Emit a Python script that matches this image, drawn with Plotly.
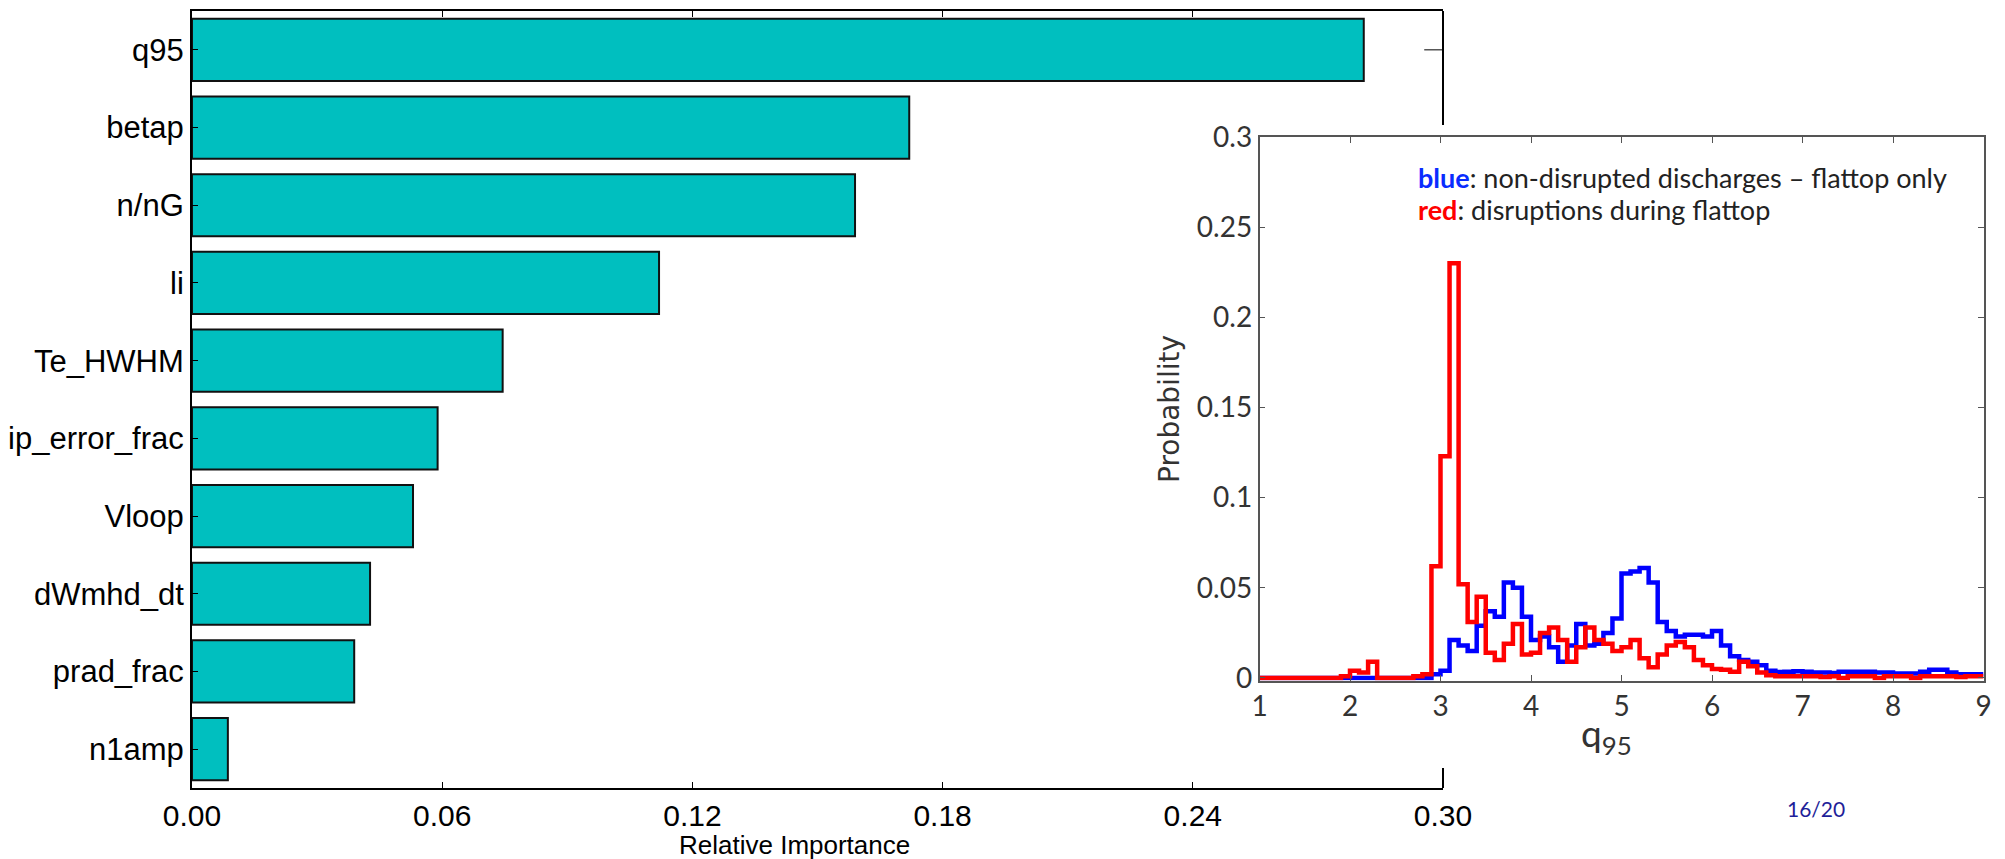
import numpy as np
import plotly.graph_objects as go

# the page body has an 8px default margin: work in window pixels and offset
OX, OY = 8, 8
W, H = 2005 - OX, 859 - OY

# ---------------- data: feature importance (left chart) ----------------
features = ["q95", "betap", "n/nG", "li", "Te_HWHM", "ip_error_frac",
            "Vloop", "dWmhd_dt", "prad_frac", "n1amp"]
importance = [0.281, 0.172, 0.159, 0.112, 0.0745, 0.0589,
              0.0530, 0.0427, 0.0389, 0.0086]
imp_tickvals = [0.00, 0.06, 0.12, 0.18, 0.24, 0.30]
imp_ticktext = ["0.00", "0.06", "0.12", "0.18", "0.24", "0.30"]

# ---------------- data: q95 histograms (inset) ----------------
# bins of width 0.1 from q95 = 1.0 to 9.0 (80 bins)
q95_bin_edges = np.round(1.0 + 0.1 * np.arange(81), 1)
blue_prob = [
    0, 0, 0, 0, 0, 0, 0, 0, 0, 0,                 # 1.0-2.0
    0, 0, 0, 0, 0, 0, 0, 0, 0, 0.002,             # 2.0-3.0
    0.004, 0.021, 0.018, 0.015, 0.029, 0.037, 0.034, 0.053, 0.050, 0.034,  # 3.0-4.0
    0.021, 0.023, 0.017, 0.009, 0.018, 0.030, 0.018, 0.019, 0.025, 0.033,  # 4.0-5.0
    0.058, 0.059, 0.061, 0.053, 0.031, 0.026, 0.023, 0.024, 0.024, 0.023,  # 5.0-6.0
    0.026, 0.018, 0.012, 0.010, 0.009, 0.007, 0.004, 0.0033, 0.0035, 0.0037,  # 6.0-7.0
    0.0035, 0.003, 0.003, 0.0028, 0.0035, 0.0035, 0.0035, 0.0035, 0.003, 0.003,  # 7.0-8.0
    0.0025, 0.0025, 0.0025, 0.0035, 0.0045, 0.0045, 0.003, 0.002, 0.002, 0.002,  # 8.0-9.0
]
red_prob = [
    0, 0, 0, 0, 0, 0, 0, 0, 0, 0.001,             # 1.0-2.0
    0.004, 0.003, 0.009, 0, 0, 0, 0, 0.001, 0.002, 0.062,  # 2.0-3.0
    0.123, 0.230, 0.052, 0.031, 0.045, 0.014, 0.010, 0.019, 0.030, 0.013,  # 3.0-4.0
    0.014, 0.025, 0.028, 0.021, 0.009, 0.017, 0.028, 0.021, 0.019, 0.015,  # 4.0-5.0
    0.017, 0.021, 0.011, 0.006, 0.013, 0.018, 0.020, 0.017, 0.010, 0.007,  # 5.0-6.0
    0.005, 0.0045, 0.0035, 0.009, 0.0065, 0.003, 0.0015, 0.001, 0.001, 0.001,  # 6.0-7.0
    0.001, 0.001, 0.0005, 0.001, 0, 0.001, 0.001, 0.001, 0, 0.001,  # 7.0-8.0
    0.001, 0.001, 0, 0.001, 0.001, 0.001, 0.001, 0.0005, 0.001, 0.001,  # 8.0-9.0
]
inset_xticks = [1, 2, 3, 4, 5, 6, 7, 8, 9]
inset_yticks = [0, 0.05, 0.1, 0.15, 0.2, 0.25, 0.3]
inset_yticktext = ["0", "0.05", "0.1", "0.15", "0.2", "0.25", "0.3"]


def px(x):
    return (x - OX) / W


def py(y):
    return 1 - (y - OY) / H


# left plot box (window pixels)
L_LEFT, L_RIGHT, L_TOP, L_BOT = 192, 1443, 11, 788
# inset plot box (window pixels)
I_LEFT, I_RIGHT, I_TOP, I_BOT = 1259.5, 1983.5, 137, 680.5

fig = go.Figure()

fig.add_trace(go.Bar(
    x=importance, y=features, orientation="h", width=0.8,
    marker=dict(color="#00BFBF", line=dict(color="#111111", width=2)),
    xaxis="x", yaxis="y", showlegend=False, hoverinfo="x+y",
))

fig.add_trace(go.Scatter(
    x=q95_bin_edges, y=blue_prob + [blue_prob[-1]], mode="lines",
    line=dict(color="#0000ff", width=4.5, shape="hv"),
    xaxis="x2", yaxis="y2", showlegend=False,
))
fig.add_trace(go.Scatter(
    x=q95_bin_edges, y=red_prob + [red_prob[-1]], mode="lines",
    line=dict(color="#ff0000", width=4.5, shape="hv"),
    xaxis="x2", yaxis="y2", showlegend=False,
))

left_font = dict(family="Liberation Sans, Arial, sans-serif", color="#000000")
inset_font = dict(family="Lato, Open Sans, sans-serif", color="#333333")

fig.update_layout(
    width=W, height=H, autosize=False,
    margin=dict(l=0, r=0, t=0, b=0, pad=0, autoexpand=False),
    paper_bgcolor="white", plot_bgcolor="rgba(0,0,0,0)",
    showlegend=False,
    xaxis=dict(
        domain=[px(L_LEFT), px(L_RIGHT)], range=[0, 0.30], anchor="y",
        tickvals=imp_tickvals, ticktext=imp_ticktext, automargin=False,
        ticks="inside", ticklen=6, tickwidth=1, tickcolor="#000",
        showline=True, linecolor="#000", linewidth=2, mirror="ticks",
        showgrid=False, zeroline=False,
        tickfont=dict(size=30, **left_font),
    ),
    yaxis=dict(
        domain=[py(L_BOT), py(L_TOP)], range=[9.5, -0.5], anchor="x",
        type="category", automargin=False,
        ticks="inside", ticklen=6, tickwidth=1, tickcolor="#000",
        showline=True, linecolor="#000", linewidth=2, mirror=False,
        showgrid=False, zeroline=False,
        tickfont=dict(size=31, **left_font),
    ),
    xaxis2=dict(
        domain=[px(I_LEFT), px(I_RIGHT)], range=[1, 9], anchor="y2",
        tickvals=inset_xticks, automargin=False,
        ticks="inside", ticklen=6, tickwidth=1, tickcolor="#555",
        showline=True, linecolor="#555", linewidth=1.5, mirror="ticks",
        showgrid=False, zeroline=False,
        tickfont=dict(size=28, **inset_font),
    ),
    yaxis2=dict(
        domain=[py(I_BOT), py(I_TOP)], range=[-0.0014, 0.3], anchor="x2",
        tickvals=inset_yticks, ticktext=inset_yticktext, automargin=False,
        ticks="inside", ticklen=6, tickwidth=1, tickcolor="#555",
        showline=True, linecolor="#555", linewidth=1.5, mirror="ticks",
        showgrid=False, zeroline=False,
        tickfont=dict(size=28, **inset_font),
    ),
)

# right spine of the left chart (partly hidden behind the inset)
shapes = [
    dict(type="line", xref="paper", yref="paper",
         x0=px(L_RIGHT), x1=px(L_RIGHT), y0=py(L_TOP), y1=py(125),
         line=dict(color="#000", width=2)),
    dict(type="line", xref="paper", yref="paper",
         x0=px(L_RIGHT), x1=px(L_RIGHT), y0=py(768), y1=py(L_BOT),
         line=dict(color="#000", width=2)),
    dict(type="line", xref="x", yref="y",
         x0=0.2955, x1=0.30, y0=features[0], y1=features[0],
         line=dict(color="#000", width=1)),
]
fig.update_layout(shapes=shapes)

annotations = [
    dict(text="Relative Importance", x=px(794), y=py(845), xref="paper", yref="paper",
         showarrow=False, xanchor="center", yanchor="middle",
         font=dict(size=26, family="Liberation Sans, Arial, sans-serif", color="#000")),
    dict(text="Probability", x=px(1170), y=py(409), xref="paper", yref="paper",
         showarrow=False, textangle=-90, xanchor="center", yanchor="middle",
         font=dict(size=28, family="DejaVu Sans, sans-serif", color="#333333")),
    dict(text="q<sub>95</sub>", x=px(1606), y=py(735), xref="paper", yref="paper",
         showarrow=False, xanchor="center", yanchor="middle",
         font=dict(size=37, **inset_font)),
    dict(text="<span style='color:#0a2cff'><b>blue</b></span>: non-disrupted discharges – flattop only",
         x=px(1416), y=py(177), xref="paper", yref="paper",
         showarrow=False, xanchor="left", yanchor="middle",
         font=dict(size=27, family="Lato, sans-serif", color="#222222")),
    dict(text="<span style='color:#ff0000'><b>red</b></span>: disruptions during flattop",
         x=px(1416), y=py(209), xref="paper", yref="paper",
         showarrow=False, xanchor="left", yanchor="middle",
         font=dict(size=27, family="Lato, sans-serif", color="#222222")),
    dict(text="16/20", x=px(1816), y=py(808), xref="paper", yref="paper",
         showarrow=False, xanchor="center", yanchor="middle",
         font=dict(size=21, family="Lato, sans-serif", color="#1f1f99")),
]
fig.update_layout(annotations=annotations)

fig.write_html("out.html")
